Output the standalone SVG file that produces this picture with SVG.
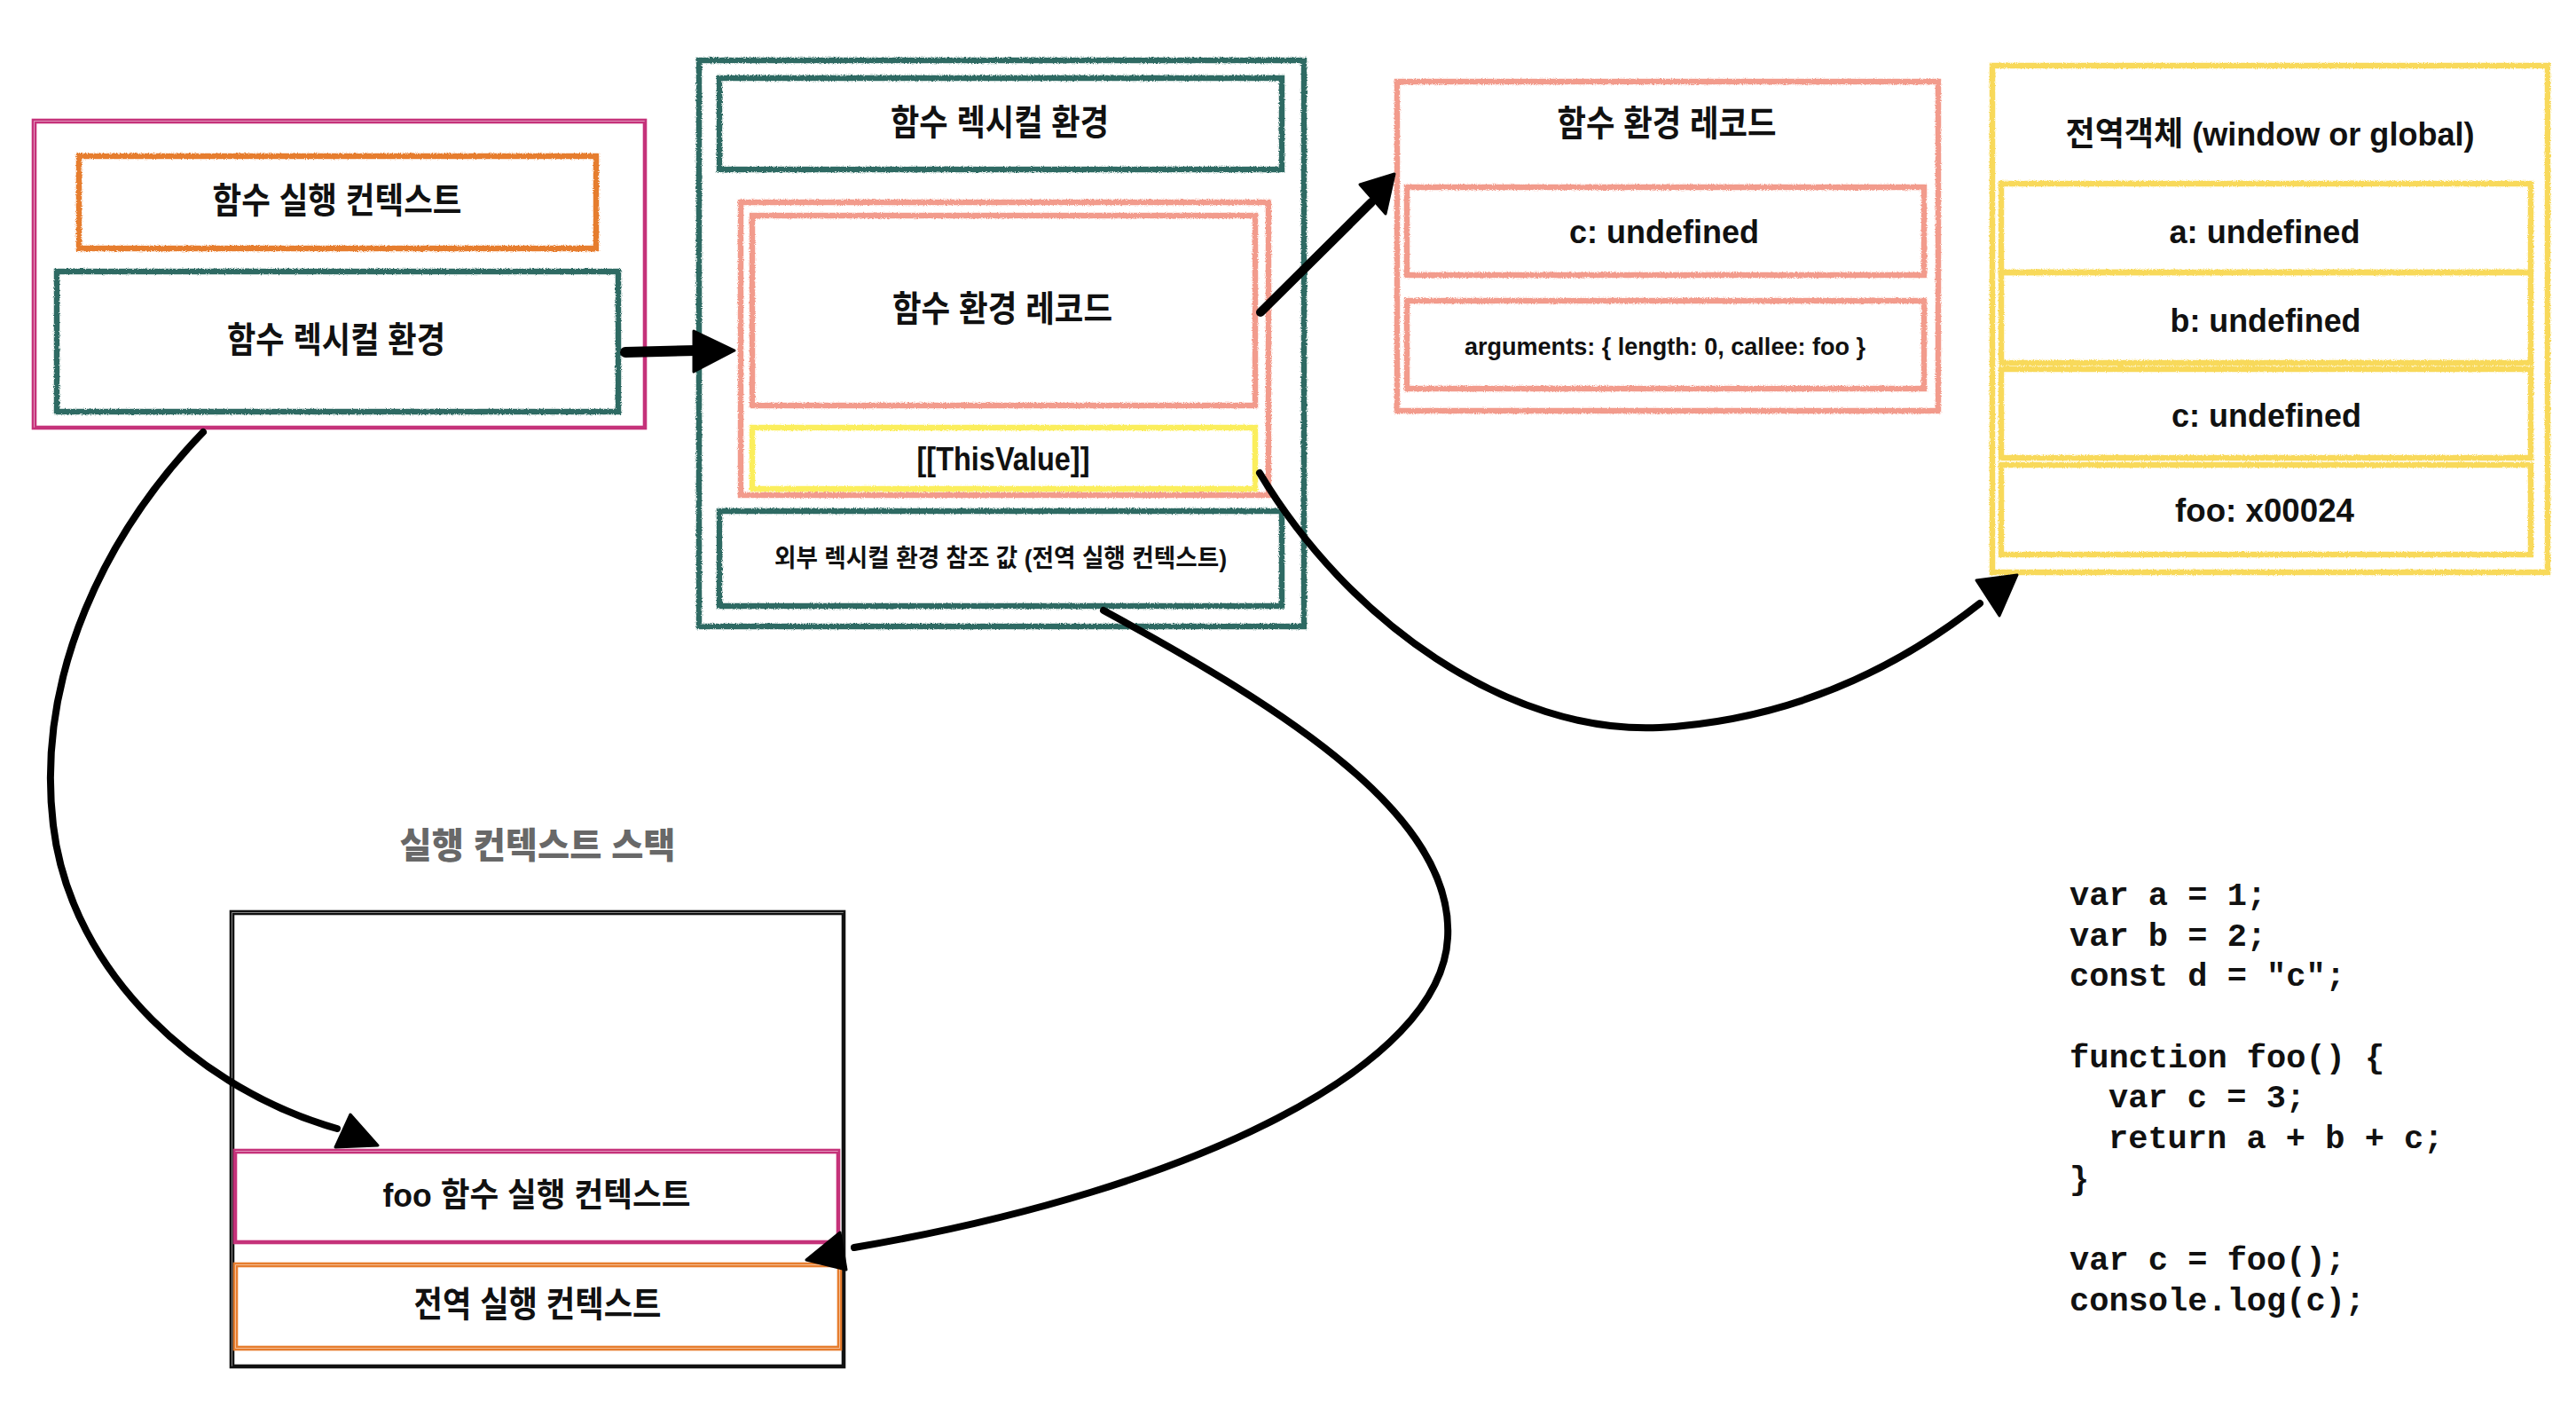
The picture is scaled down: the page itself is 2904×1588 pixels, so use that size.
<svg xmlns="http://www.w3.org/2000/svg" width="2904" height="1588" viewBox="0 0 2904 1588">
<defs>
<filter id="rough" filterUnits="userSpaceOnUse" x="0" y="0" width="2904" height="1588">
<feTurbulence type="fractalNoise" baseFrequency="0.9" numOctaves="2" seed="3" result="n"/>
<feDisplacementMap in="SourceGraphic" in2="n" scale="3.5" xChannelSelector="R" yChannelSelector="G"/>
</filter>
</defs>
<style>
.cr{fill:none;stroke-width:6.5;filter:url(#rough)}
.pen{fill:none;stroke-width:2.6}
.teal{stroke:#2f6b64}
.orange{stroke:#e67d2e}
.salmon{stroke:#f29b8c}
.yel{stroke:#fbee5c}
.gold{stroke:#f8d95a}
.mag{stroke:#c5327a}
.blk{stroke:#111}
.t{font-family:"Liberation Sans","Noto Sans CJK KR",sans-serif;font-weight:700;font-size:37px;fill:#111;text-anchor:middle}
.k{font-size:40px}
.s{font-size:28px}
.gray{fill:#686868;font-weight:900}
.code{font-family:"Liberation Mono",monospace;font-weight:700;font-size:37px;fill:#111}
.ln{fill:none;stroke:#000;stroke-linecap:round;stroke-linejoin:round}
.ah{fill:#000;stroke:#000;stroke-width:3;stroke-linejoin:round}
</style>
<rect width="2904" height="1588" fill="#fff"/>

<g id="function-execution-context">
<rect class="pen mag" x="37" y="135" width="691" height="348"/>
<rect class="pen mag" x="40" y="138" width="686" height="343"/>
<g id="fec-title">
<rect class="cr orange" x="89" y="176" width="583" height="104"/>
<text class="t k" x="380" y="240" textLength="281" lengthAdjust="spacingAndGlyphs">함수 실행 컨텍스트</text>
</g>
<g id="fec-lexical-env">
<rect class="cr teal" x="64" y="306" width="633" height="158"/>
<text class="t k" x="379" y="397" textLength="246" lengthAdjust="spacingAndGlyphs">함수 렉시컬 환경</text>
</g>
</g>

<g id="function-lexical-environment">
<rect class="cr teal" x="788" y="68" width="682" height="638"/>
<g id="fle-title">
<rect class="cr teal" x="811" y="88" width="634" height="103"/>
<text class="t k" x="1127" y="152" textLength="246" lengthAdjust="spacingAndGlyphs">함수 렉시컬 환경</text>
</g>
<g id="fle-record">
<rect class="cr salmon" x="835" y="228" width="595" height="330"/>
<rect class="cr salmon" x="848" y="243" width="567" height="214"/>
<text class="t k" x="1130" y="362" textLength="248" lengthAdjust="spacingAndGlyphs">함수 환경 레코드</text>
</g>
<g id="fle-this">
<rect class="cr yel" x="848" y="482" width="567" height="69"/>
<text class="t" x="1131" y="530" textLength="195" lengthAdjust="spacingAndGlyphs">[[ThisValue]]</text>
</g>
<g id="fle-outer">
<rect class="cr teal" x="811" y="576" width="634" height="107"/>
<text class="t s" x="1128" y="639" textLength="510" lengthAdjust="spacingAndGlyphs">외부 렉시컬 환경 참조 값 (전역 실행 컨텍스트)</text>
</g>
</g>

<g id="function-environment-record">
<rect class="cr salmon" x="1575" y="92" width="610" height="371"/>
<text class="t k" x="1879" y="153" textLength="247" lengthAdjust="spacingAndGlyphs">함수 환경 레코드</text>
<g id="fer-c">
<rect class="cr salmon" x="1586" y="211" width="583" height="99"/>
<text class="t" x="1876" y="274" textLength="214" lengthAdjust="spacingAndGlyphs">c: undefined</text>
</g>
<g id="fer-arguments">
<rect class="cr salmon" x="1586" y="339" width="583" height="99"/>
<text class="t s" x="1877" y="400" textLength="452" lengthAdjust="spacingAndGlyphs">arguments: { length: 0, callee: foo }</text>
</g>
</g>

<g id="global-object">
<rect class="cr gold" x="2246" y="74" width="626" height="571"/>
<text class="t" x="2559" y="164" textLength="461" lengthAdjust="spacingAndGlyphs">전역객체 (window or global)</text>
<g id="go-a">
<rect class="cr gold" x="2256" y="207" width="597" height="100"/>
<text class="t" x="2553" y="274" textLength="215" lengthAdjust="spacingAndGlyphs">a: undefined</text>
</g>
<g id="go-b">
<rect class="cr gold" x="2256" y="307" width="597" height="102"/>
<text class="t" x="2554" y="374" textLength="215" lengthAdjust="spacingAndGlyphs">b: undefined</text>
</g>
<g id="go-c">
<rect class="cr gold" x="2256" y="416" width="597" height="100"/>
<text class="t" x="2555" y="481" textLength="214" lengthAdjust="spacingAndGlyphs">c: undefined</text>
</g>
<g id="go-foo">
<rect class="cr gold" x="2256" y="524" width="597" height="101"/>
<text class="t" x="2553" y="588" textLength="202" lengthAdjust="spacingAndGlyphs">foo: x00024</text>
</g>
</g>

<g id="execution-context-stack">
<text class="t k gray" x="606" y="967" textLength="311" lengthAdjust="spacingAndGlyphs">실행 컨텍스트 스택</text>
<rect class="pen blk" x="260" y="1027" width="692" height="514"/>
<rect class="pen blk" x="263" y="1030" width="687" height="509"/>
<g id="stack-foo">
<rect class="pen mag" x="264" y="1296" width="682" height="105"/>
<rect class="pen mag" x="266" y="1299" width="678" height="100"/>
<text class="t" x="605" y="1360" textLength="347" lengthAdjust="spacingAndGlyphs">foo 함수 실행 컨텍스트</text>
</g>
<g id="stack-global">
<rect class="pen orange" x="264" y="1424" width="684" height="97"/>
<rect class="pen orange" x="267" y="1427" width="678" height="91"/>
<text class="t k" x="606" y="1484" textLength="279" lengthAdjust="spacingAndGlyphs">전역 실행 컨텍스트</text>
</g>
</g>

<g id="code">
<text class="code"><tspan x="2333" y="1020">var a = 1;</tspan><tspan x="2333" y="1066">var b = 2;</tspan><tspan x="2333" y="1111">const d = "c";</tspan><tspan x="2333" y="1203">function foo() {</tspan><tspan x="2377" y="1248">var c = 3;</tspan><tspan x="2377" y="1294">return a + b + c;</tspan><tspan x="2333" y="1340">}</tspan><tspan x="2333" y="1431">var c = foo();</tspan><tspan x="2333" y="1477">console.log(c);</tspan></text>
</g>

<g id="connectors">
<path class="ln" stroke-width="12" d="M705,397 L785,395"/>
<polygon class="ah" points="782,373 828,395 782,419"/>
<path class="ln" stroke-width="10" d="M1421,352 L1546,228"/>
<polygon class="ah" points="1533,208 1572,196 1562,241"/>
<path class="ln" stroke-width="8" d="M229,487 C120,600 40,760 60,930 C80,1100 230,1230 380,1272"/>
<polygon class="ah" points="378,1293 395,1256 426,1291"/>
<path class="ln" stroke-width="8" d="M1420,533 C1520,700 1700,828 1871,820 C2010,812 2130,760 2232,680"/>
<polygon class="ah" points="2228,654 2274,648 2254,694"/>
<path class="ln" stroke-width="8" d="M1244,688 C1450,800 1640,920 1632,1057 C1625,1200 1350,1340 963,1406"/>
<polygon class="ah" points="909,1420 947,1389 954,1431"/>
</g>
</svg>
